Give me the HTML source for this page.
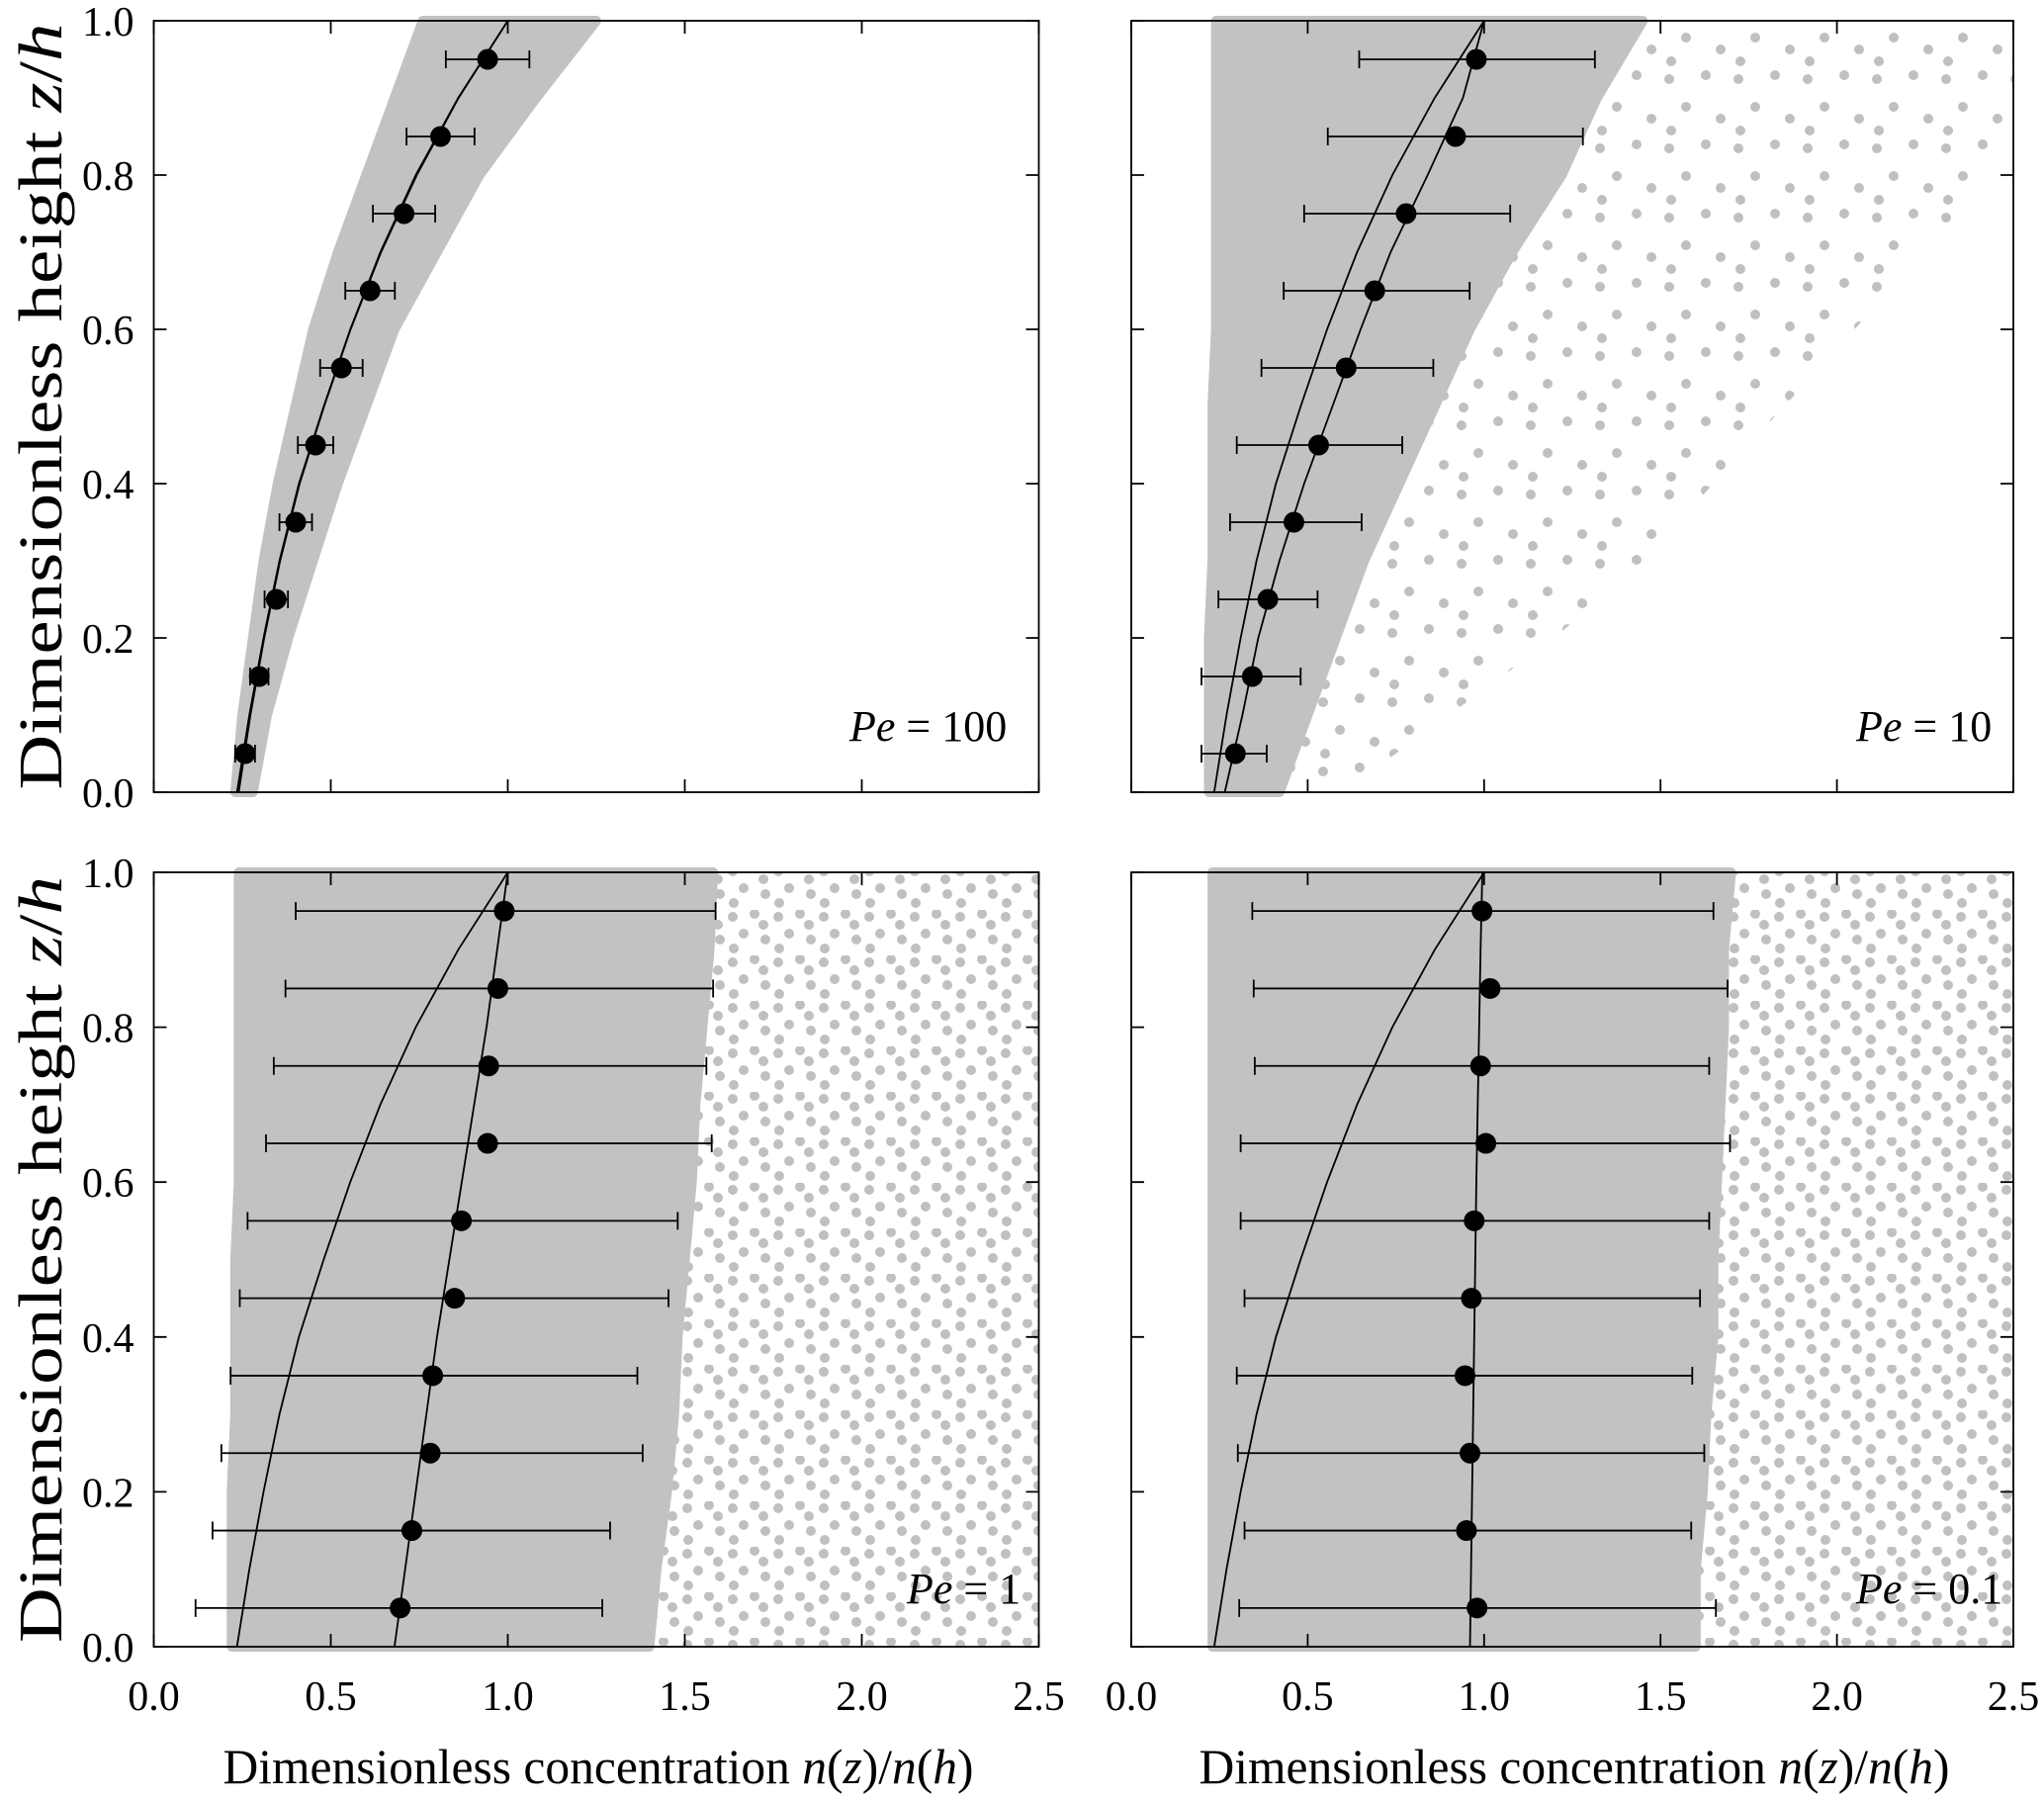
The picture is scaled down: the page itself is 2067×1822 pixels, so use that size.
<!DOCTYPE html>
<html><head><meta charset="utf-8"><style>
html,body{margin:0;padding:0;background:#fff;}
svg{display:block;}
text{font-family:"Liberation Serif","Times New Roman",serif;}
</style></head><body>
<svg id="chart" width="2067" height="1822" viewBox="0 0 2067 1822" xmlns="http://www.w3.org/2000/svg">
<defs>
<pattern id="sparse" patternUnits="userSpaceOnUse" width="46" height="46">
<circle cx="5" cy="7" r="5" fill="#c0c0c0"/>
<circle cx="27" cy="4" r="5" fill="#c0c0c0"/>
<circle cx="16" cy="24" r="5" fill="#c0c0c0"/>
<circle cx="38" cy="30" r="5" fill="#c0c0c0"/>
<circle cx="6" cy="39" r="5" fill="#c0c0c0"/>
<circle cx="36" cy="15" r="5" fill="#c0c0c0"/>
</pattern>
<pattern id="sparse2" patternUnits="userSpaceOnUse" width="70" height="70">
<circle cx="8" cy="10" r="5" fill="#c0c0c0"/>
<circle cx="45" cy="6" r="5" fill="#c0c0c0"/>
<circle cx="25" cy="38" r="5" fill="#c0c0c0"/>
<circle cx="60" cy="50" r="5" fill="#c0c0c0"/>
<circle cx="10" cy="62" r="5" fill="#c0c0c0"/>
</pattern>
</defs>
</svg>
<script>
// ---- data ----
const zLevels = [0.05,0.15,0.25,0.35,0.45,0.55,0.65,0.75,0.85,0.95];
const curveZ = [0,0.1,0.2,0.3,0.4,0.5,0.6,0.7,0.8,0.9,1.0];
const theoryN = [0.235,0.27,0.31,0.355,0.41,0.48,0.555,0.64,0.74,0.86,1.0];
const xTicks = [0,0.5,1.0,1.5,2.0,2.5];
const xTickLabels = ["0.0","0.5","1.0","1.5","2.0","2.5"];
const yTicks = [0,0.2,0.4,0.6,0.8,1.0];
const yTickLabels = ["0.0","0.2","0.4","0.6","0.8","1.0"];

const pe100Mean = [0.258,0.298,0.346,0.401,0.457,0.53,0.611,0.707,0.81,0.943];
const pe100Lo = [0.23,0.272,0.313,0.355,0.407,0.47,0.541,0.619,0.714,0.825];
const pe100Hi = [0.286,0.324,0.379,0.447,0.507,0.59,0.681,0.795,0.906,1.061];
const pe100Fit = [0.24,0.273,0.312,0.357,0.412,0.481,0.556,0.642,0.743,0.861,1.0];
const pe100CoreLo = [0.23,0.25,0.28,0.31,0.35,0.4,0.45,0.52,0.6,0.68,0.76];
const pe100CoreHi = [0.28,0.32,0.38,0.45,0.52,0.6,0.68,0.8,0.92,1.08,1.25];
const pe100SparseHi = [0.28,0.32,0.38,0.45,0.52,0.6,0.68,0.8,0.92,1.08,1.25];

const pe10Mean = [0.295,0.343,0.387,0.461,0.531,0.609,0.69,0.779,0.919,0.978];
const pe10Lo = [0.199,0.199,0.247,0.28,0.299,0.369,0.432,0.49,0.557,0.646];
const pe10Hi = [0.384,0.48,0.528,0.653,0.768,0.856,0.959,1.074,1.28,1.314];
const pe10Fit = [0.265,0.315,0.36,0.42,0.49,0.57,0.65,0.735,0.84,0.94,1.0];
const pe10CoreLo = [0.22,0.22,0.22,0.23,0.23,0.23,0.24,0.24,0.24,0.24,0.24];
const pe10CoreHi = [0.42,0.5,0.58,0.66,0.76,0.86,0.96,1.08,1.22,1.32,1.45];
const pe10SparseHi = [0.6,0.9,1.2,1.45,1.65,1.85,2.05,2.25,2.45,2.5,2.5];

const pe1Mean = [0.696,0.729,0.781,0.788,0.85,0.869,0.943,0.946,0.972,0.99];
const pe1Lo = [0.118,0.166,0.191,0.217,0.243,0.265,0.317,0.339,0.372,0.401];
const pe1Hi = [1.267,1.289,1.381,1.366,1.454,1.48,1.576,1.561,1.58,1.587];
const pe1Fit = [0.68,0.71,0.74,0.77,0.80,0.835,0.87,0.905,0.94,0.97,1.0];
const pe1CoreLo = [0.22,0.22,0.22,0.23,0.23,0.23,0.24,0.24,0.24,0.24,0.24];
const pe1CoreHi = [1.4,1.42,1.45,1.47,1.48,1.5,1.52,1.53,1.55,1.57,1.58];
const pe1SparseHi = [2.5,2.5,2.5,2.5,2.5,2.5,2.5,2.5,2.5,2.5,2.5];

const pe01Mean = [0.98,0.95,0.96,0.946,0.964,0.972,1.005,0.99,1.017,0.994];
const pe01Lo = [0.306,0.321,0.302,0.299,0.321,0.31,0.31,0.35,0.347,0.343];
const pe01Hi = [1.657,1.587,1.624,1.59,1.612,1.638,1.697,1.638,1.69,1.65];
const pe01Fit = [0.96,0.963,0.966,0.969,0.972,0.975,0.978,0.982,0.986,0.99,0.995];
const pe01CoreLo = [0.23,0.23,0.23,0.23,0.23,0.23,0.23,0.23,0.23,0.23,0.23];
const pe01CoreHi = [1.6,1.6,1.62,1.63,1.65,1.65,1.66,1.67,1.68,1.68,1.7];
const pe01SparseHi = [2.5,2.5,2.5,2.5,2.5,2.5,2.5,2.5,2.5,2.5,2.5];

const NS = "http://www.w3.org/2000/svg";
const svg = document.getElementById('chart');
const FONT = "'Liberation Serif','Times New Roman',serif";
function mk(tag, attrs, parent){const e=document.createElementNS(NS,tag);for(const k in attrs)e.setAttribute(k,attrs[k]);(parent||svg).appendChild(e);return e;}

const panels = [
 {id:'pe100', x0:155.5, x1:1050.5, y0:21, y1:801, mean:pe100Mean, lo:pe100Lo, hi:pe100Hi, fit:pe100Fit, cLo:pe100CoreLo, cHi:pe100CoreHi, sHi:pe100SparseHi, pat:'sparse', label:'100', lx:859, ly:749, yl:true, xl:false},
 {id:'pe10', x0:1144, x1:2036, y0:21, y1:801, mean:pe10Mean, lo:pe10Lo, hi:pe10Hi, fit:pe10Fit, cLo:pe10CoreLo, cHi:pe10CoreHi, sHi:pe10SparseHi, pat:'sparse2', label:'10', lx:1877, ly:749, yl:false, xl:false},
 {id:'pe1', x0:155.5, x1:1050.5, y0:882, y1:1665, mean:pe1Mean, lo:pe1Lo, hi:pe1Hi, fit:pe1Fit, cLo:pe1CoreLo, cHi:pe1CoreHi, sHi:pe1SparseHi, pat:'sparse', label:'1', lx:917, ly:1621, yl:true, xl:true},
 {id:'pe0-1', x0:1144, x1:2036, y0:882, y1:1665, mean:pe01Mean, lo:pe01Lo, hi:pe01Hi, fit:pe01Fit, cLo:pe01CoreLo, cHi:pe01CoreHi, sHi:pe01SparseHi, pat:'sparse', label:'0.1', lx:1877, ly:1621, yl:false, xl:true}
];

panels.forEach((p,pi)=>{
  const X = v => p.x0 + (v/2.5)*(p.x1-p.x0);
  const Y = v => p.y1 - v*(p.y1-p.y0);
  const g = mk('g',{});
  
  
  const clip = mk('clipPath',{id:'clip'+pi}, g);
  mk('rect',{x:p.x0,y:p.y0-8,width:p.x1-p.x0+8,height:p.y1-p.y0+16},clip);
  const data = mk('g',{'clip-path':'url(#clip'+pi+')'}, g);
  let pts=[];
  curveZ.forEach((z,i)=>pts.push(X(p.cHi[i])+','+Y(z)));
  for(let i=curveZ.length-1;i>=0;i--) pts.push(X(p.sHi[i])+','+Y(curveZ[i]));
  const sp = mk('polygon',{points:pts.join(' '),fill:'url(#'+p.pat+')'},data);
  
  
  pts=[];
  curveZ.forEach((z,i)=>pts.push(X(p.cLo[i])+','+Y(z)));
  for(let i=curveZ.length-1;i>=0;i--) pts.push(X(p.cHi[i])+','+Y(curveZ[i]));
  const core = mk('polygon',{points:pts.join(' '),fill:'#c2c2c2',stroke:'#c2c2c2','stroke-width':10,'stroke-linejoin':'round'},data);
  
  
  const th = mk('polyline',{points:curveZ.map((z,i)=>X(theoryN[i])+','+Y(z)).join(' '),fill:'none',stroke:'#000','stroke-width':1.8},data);
  
  
  const ft = mk('polyline',{points:curveZ.map((z,i)=>X(p.fit[i])+','+Y(z)).join(' '),fill:'none',stroke:'#000','stroke-width':1.8},data);
  
  
  zLevels.forEach((z,i)=>{
    const y=Y(z);
    const eb = mk('path',{d:`M${X(p.lo[i])},${y}H${X(p.hi[i])}M${X(p.lo[i])},${y-9}V${y+9}M${X(p.hi[i])},${y-9}V${y+9}`,stroke:'#000','stroke-width':1.8,fill:'none'},data);
    
    
    const c = mk('circle',{cx:X(p.mean[i]),cy:y,r:10.5,fill:'#000'},data);
    
    
  });
  const fr = mk('rect',{x:p.x0,y:p.y0,width:p.x1-p.x0,height:p.y1-p.y0,fill:'none',stroke:'#000','stroke-width':1.8},g);
  
  
  let d='';
  xTicks.forEach(v=>{d+=`M${X(v)},${p.y1}v-13M${X(v)},${p.y0}v13`;});
  yTicks.forEach(v=>{d+=`M${p.x0},${Y(v)}h13M${p.x1},${Y(v)}h-13`;});
  const tk = mk('path',{d:d,stroke:'#000','stroke-width':1.8},g);
  
  
  if(p.yl){
    yTicks.forEach((v,i)=>{
      const t = mk('text',{x:p.x0-20,y:Y(v)+15,'text-anchor':'end','font-size':42,'font-family':FONT},g);
      t.textContent=yTickLabels[i];
      
      
    });
    const yt = mk('text',{transform:`translate(62,${(p.y0+p.y1)/2}) rotate(-90)`,'text-anchor':'middle','font-size':62,'font-family':FONT,textLength:775,lengthAdjust:'spacingAndGlyphs'},g);
    yt.innerHTML='Dimensionless height <tspan font-style="italic">z</tspan>/<tspan font-style="italic">h</tspan>';
    
    
  }
  if(p.xl){
    xTicks.forEach((v,i)=>{
      const t = mk('text',{x:X(v),y:1729,'text-anchor':'middle','font-size':42,'font-family':FONT},g);
      t.textContent=xTickLabels[i];
      
      
    });
    const xt = mk('text',{x:(p.x0+p.x1)/2+2,y:1803,'text-anchor':'middle','font-size':50,'font-family':FONT,textLength:759,lengthAdjust:'spacingAndGlyphs'},g);
    xt.innerHTML='Dimensionless concentration <tspan font-style="italic">n</tspan>(<tspan font-style="italic">z</tspan>)/<tspan font-style="italic">n</tspan>(<tspan font-style="italic">h</tspan>)';
    
    
  }
  const pl = mk('text',{x:p.lx,y:p.ly,'font-size':44,'font-family':FONT},g);
  pl.innerHTML='<tspan font-style="italic">Pe</tspan> = '+p.label;
  
  
});
</script>
</body></html>
